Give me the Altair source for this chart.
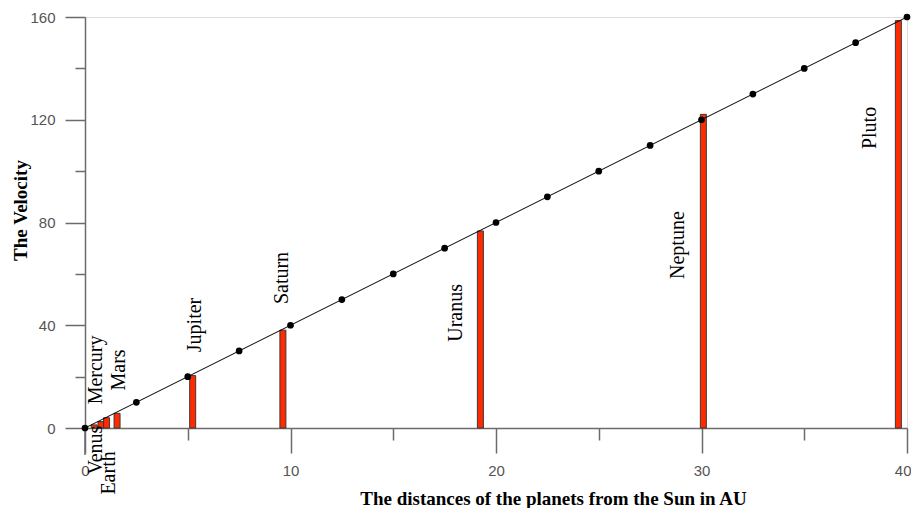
import altair as alt
import pandas as pd

planets = ["Mercury", "Venus", "Earth", "Mars", "Jupiter", "Saturn", "Uranus", "Neptune", "Pluto"]
distance_au = [0.45, 0.78, 1.05, 1.56, 5.24, 9.63, 19.24, 30.09, 39.58]
velocity = [1.2, 2.5, 4.0, 5.7, 20.4, 38.1, 76.7, 122.1, 158.6]
label_x = [0.54, 0.54, 1.17, 1.65, 5.35, 9.59, 18.05, 28.86, 38.2]
label_y = [22.6, -8.6, -17.5, 22.6, 40.1, 58.4, 44.8, 71.2, 116.8]

line_x = [0, 2.5, 5, 7.5, 10, 12.5, 15, 17.5, 20, 22.5, 25, 27.5, 30, 32.5, 35, 37.5, 40]
line_y = [0, 10, 20, 30, 40, 50, 60, 70, 80, 90, 100, 110, 120, 130, 140, 150, 160]

x_ticks = [0, 5, 10, 15, 20, 25, 30, 35, 40]
y_ticks = [0, 20, 40, 60, 80, 100, 120, 140, 160]

bars_df = pd.DataFrame({"planet": planets, "d": distance_au, "v": velocity})
labels_df = pd.DataFrame({"planet": planets, "lx": label_x, "ly": label_y})
line_df = pd.DataFrame({"d": line_x, "v": line_y})

SERIF = "Liberation Serif"
SANS = "Liberation Sans"
AX = "#6b6b6b"

x_scale = alt.Scale(domain=[0, 40], nice=False, zero=False, padding=0)
y_scale = alt.Scale(domain=[0, 160], nice=False, zero=False, padding=0)

x_axis = alt.Axis(
    values=x_ticks,
    title="The distances of the planets from the Sun in AU",
    titleFont=SERIF, titleFontSize=19, titleFontWeight="bold", titleColor="black",
    titleX=468, titleY=70, titleAlign="center", titleBaseline="middle",
    labelExpr="datum.value % 10 === 0 ? datum.label : ''",
    labelFont=SANS, labelFontSize=15, labelColor="#555555",
    labelPadding=10,
    labelAlign={"condition": {"test": "datum.value === 40", "value": "right"}, "value": "center"},
    labelOffset={"condition": {"test": "datum.value === 40", "value": 4}, "value": 0},
    tickSize={"condition": {"test": "datum.value % 10 === 0", "value": 25}, "value": 12},
    tickColor=AX, tickWidth=1.5, domainColor=AX, domainWidth=1.5,
    grid=False, labelFlush=False, labelOverlap=False,
)
y_axis = alt.Axis(
    values=y_ticks,
    title="The Velocity",
    titleFont=SERIF, titleFontSize=19, titleFontWeight="bold", titleColor="black",
    titleX=-65, titleY=193, titleAngle=270, titleAlign="center", titleBaseline="middle",
    labelExpr="datum.value % 40 === 0 ? datum.label : ''",
    labelFont=SANS, labelFontSize=15, labelColor="#555555",
    labelPadding=10,
    tickSize={"condition": {"test": "datum.value % 40 === 0", "value": 20}, "value": 10},
    tickColor=AX, tickWidth=1.5, domainColor=AX, domainWidth=1.5,
    grid=False, labelFlush=False, labelOverlap=False,
)

bars = alt.Chart(bars_df).mark_bar(
    size=6, color="#ff2a00", stroke="#3a3a3a", strokeWidth=1
).encode(
    x=alt.X("d:Q", scale=x_scale, axis=x_axis),
    y=alt.Y("v:Q", scale=y_scale, axis=y_axis),
    y2=alt.datum(0),
)

line = alt.Chart(line_df).mark_line(color="black", strokeWidth=1).encode(
    x=alt.X("d:Q", scale=x_scale), y=alt.Y("v:Q", scale=y_scale)
)
dots = alt.Chart(line_df).mark_circle(color="black", size=45, opacity=1).encode(
    x=alt.X("d:Q", scale=x_scale), y=alt.Y("v:Q", scale=y_scale)
)

labels = alt.Chart(labels_df).mark_text(
    angle=270, align="center", baseline="middle", font=SERIF, fontSize=20, color="black"
).encode(
    x=alt.X("lx:Q", scale=x_scale), y=alt.Y("ly:Q", scale=y_scale), text="planet:N"
)

axis_ext = alt.Chart(pd.DataFrame({"x": [0], "y0": [0], "y1": [-10.5]})).mark_rule(
    color=AX, strokeWidth=1.5
).encode(x=alt.X("x:Q", scale=x_scale), y=alt.Y("y0:Q", scale=y_scale), y2="y1:Q")

chart = alt.layer(axis_ext, bars, line, dots, labels).properties(
    width=822, height=411,
    autosize=alt.AutoSizeParams(type="none"),
    padding={"left": 77, "top": 9, "right": 4, "bottom": 80},
).configure_view(stroke=None).configure(background="white")

chart.save("out.html", embed_options={"renderer": "svg", "actions": False})
